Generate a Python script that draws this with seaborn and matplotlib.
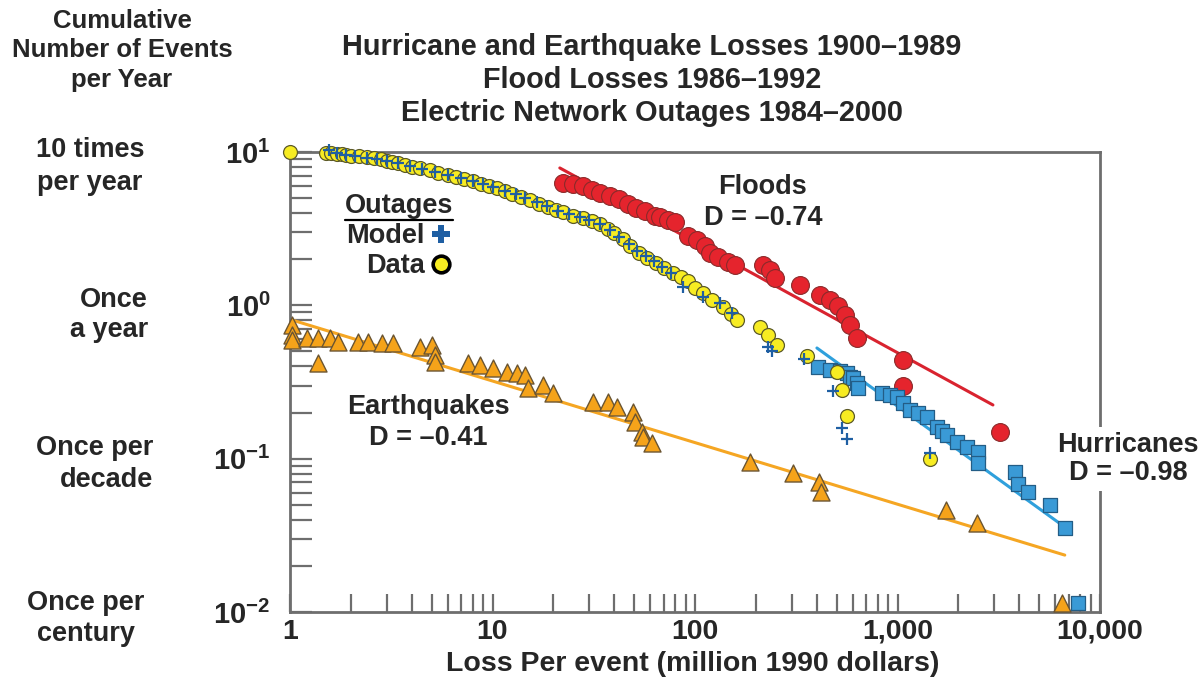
import numpy as np
import pandas as pd
import seaborn as sns
import matplotlib
import matplotlib.pyplot as plt
from matplotlib import font_manager
from matplotlib.lines import Line2D
from matplotlib.transforms import IdentityTransform

# ---------------- data ----------------
outage_data_x = [1.0, 1.5, 1.6, 1.7, 1.8, 1.9, 2.0, 2.2, 2.4, 2.6, 2.8, 3.0, 3.2, 3.4, 3.7,
                 4.0, 4.4, 4.9, 5.4, 6.0, 6.6, 7.2, 8.0, 8.8, 9.6, 10.5, 11.5, 12.5, 13.8,
                 15.3, 17.0, 18.8, 20.5, 22.3, 25, 28, 31, 34, 37, 40, 44, 48, 53, 58, 64,
                 70, 78, 85, 92, 100, 110, 122, 137, 150, 161, 209, 229, 254, 357, 503,
                 532, 563, 1445]
outage_data_y = [10.0, 9.9, 9.8, 9.75, 9.65, 9.55, 9.45, 9.35, 9.25, 9.1, 8.95, 8.8, 8.6, 8.45,
                 8.25, 8.0, 7.85, 7.6, 7.35, 7.1, 6.85, 6.7, 6.45, 6.2, 6.0, 5.8, 5.55, 5.3,
                 5.1, 4.86, 4.6, 4.4, 4.2, 4.05, 3.85, 3.7, 3.55, 3.4, 3.15, 2.95, 2.7, 2.45,
                 2.2, 2.05, 1.9, 1.75, 1.62, 1.52, 1.45, 1.3, 1.2, 1.08, 0.97, 0.88, 0.80,
                 0.72, 0.64, 0.55, 0.47, 0.37, 0.28, 0.19, 0.10]

outage_model_x = [1.55, 1.7, 1.9, 2.1, 2.4, 2.7, 3.0, 3.4, 3.9, 4.5, 5.2, 6.0, 7.0, 8.0, 9.0,
                  10.0, 11.5, 13.0, 14.5, 16.5, 18.5, 21, 24, 27, 30, 34, 38, 42, 47, 52,
                  57, 63, 69, 76, 87, 110, 133, 152, 229, 240, 344, 480, 532, 563, 1445]
outage_model_y = [10.3, 9.8, 9.6, 9.4, 9.2, 9.0, 8.75, 8.5, 8.15, 7.8, 7.45, 7.1, 6.75, 6.45,
                  6.15, 5.9, 5.6, 5.3, 5.0, 4.7, 4.45, 4.15, 3.95, 3.75, 3.6, 3.4, 3.1, 2.8,
                  2.5, 2.25, 2.1, 1.95, 1.78, 1.62, 1.32, 1.13, 1.03, 0.89, 0.535, 0.50,
                  0.45, 0.276, 0.158, 0.134, 0.109]

flood_x = [22.3, 25.0, 28.0, 31.0, 34.0, 38.0, 42.1, 46.7, 51.1, 56.6, 63.4, 67.2, 73.5,
           79.6, 92.3, 102, 112, 119, 130, 146, 158, 217, 235, 248, 330, 414, 464, 508,
           551, 583, 631, 1065, 1065, 3210]
flood_y = [6.28, 6.18, 6.0, 5.65, 5.40, 5.16, 4.94, 4.58, 4.31, 4.12, 3.82, 3.77, 3.60,
           3.49, 2.83, 2.67, 2.44, 2.20, 2.07, 1.92, 1.83, 1.83, 1.70, 1.51, 1.36, 1.17,
           1.08, 0.99, 0.865, 0.745, 0.61, 0.44, 0.30, 0.149]

hurricane_x = [405, 464, 520, 563, 583, 603, 631, 638, 838, 918, 995, 1065, 1153, 1262,
               1399, 1567, 1660, 1755, 1967, 2204, 2500, 2500, 3802, 3936, 4406, 5662,
               6714, 7786]
hurricane_y = [0.396, 0.379, 0.373, 0.362, 0.341, 0.336, 0.311, 0.289, 0.268, 0.260, 0.252,
               0.231, 0.208, 0.199, 0.187, 0.161, 0.151, 0.143, 0.129, 0.119, 0.110,
               0.0937, 0.0818, 0.0684, 0.0607, 0.0499, 0.0353, 0.0115]

quake_x = [1.02, 1.02, 1.02, 1.21, 1.37, 1.58, 1.73, 1.37, 2.17, 2.43, 2.85, 3.23, 4.38,
           5.03, 5.20, 5.20, 7.57, 8.67, 10.05, 11.8, 13.2, 14.5, 15.0, 17.8, 19.9, 31.3,
           37.2, 41.2, 49.4, 50.5, 54.7, 55.4, 61.3, 187, 305, 410, 419, 1737, 2470, 6490]
quake_y = [0.745, 0.640, 0.594, 0.612, 0.612, 0.612, 0.577, 0.421, 0.577, 0.577, 0.568,
           0.568, 0.535, 0.551, 0.474, 0.427, 0.421, 0.408, 0.390, 0.367, 0.362, 0.352,
           0.289, 0.302, 0.268, 0.234, 0.234, 0.217, 0.201, 0.173, 0.149, 0.138, 0.126,
           0.095, 0.0805, 0.0704, 0.0607, 0.0462, 0.0380, 0.0115]

# power-law fit lines (end points)
flood_fit_x = [21.5, 2960]
flood_fit_y = [7.87, 0.224]
hurricane_fit_x = [400, 6700]
hurricane_fit_y = [0.527, 0.0358]
quake_fit_x = [1.03, 6700]
quake_fit_y = [0.80, 0.0235]

x_ticks = [1, 10, 100, 1000, 10000]
x_tick_labels = ["1", "10", "100", "1,000", "10,000"]
y_ticks = [0.01, 0.1, 1, 10]
y_tick_labels = [r"$\mathbf{10^{-2}}$", r"$\mathbf{10^{-1}}$", r"$\mathbf{10^{0}}$", r"$\mathbf{10^{1}}$"]

# ---------------- style ----------------
sns.set_style("white")
plt.rcParams["font.family"] = ["Liberation Sans", "DejaVu Sans"]
plt.rcParams["mathtext.fontset"] = "custom"
plt.rcParams["mathtext.rm"] = "Liberation Sans"
plt.rcParams["mathtext.bf"] = "Liberation Sans:bold"
plt.rcParams["mathtext.it"] = "Liberation Sans:italic"

names = {f.name for f in font_manager.fontManager.ttflist}
title_family = ["Liberation Sans Narrow", "Liberation Sans"] if "Liberation Sans Narrow" in names else ["Liberation Sans"]

W, H = 1203, 680
fig = plt.figure(figsize=(W / 100, H / 100), dpi=100)
ax = fig.add_axes([290 / W, 1 - 612 / H, 810 / W, 460 / H])

SPINE = "#6e6e6e"
C_RED, C_RED_E = "#e5242d", "#8a2a2a"
C_BLUE, C_BLUE_E = "#3a9ad6", "#235d86"
C_ORANGE, C_ORANGE_E = "#f5a31a", "#6b5532"
C_YEL, C_YEL_E = "#f7ec22", "#5c5a28"
C_PLUS = "#1f5fa3"

# fit lines
sns.lineplot(x=flood_fit_x, y=flood_fit_y, ax=ax, color="#d9232f", lw=2.2, sort=False, estimator=None, zorder=2)
sns.lineplot(x=hurricane_fit_x, y=hurricane_fit_y, ax=ax, color="#2fa0dc", lw=2.2, sort=False, estimator=None, zorder=2)
sns.lineplot(x=quake_fit_x, y=quake_fit_y, ax=ax, color="#f5a623", lw=2.2, sort=False, estimator=None, zorder=2)

# markers
sns.scatterplot(x=quake_x, y=quake_y, ax=ax, marker="^", s=150, color=C_ORANGE,
                edgecolor=C_ORANGE_E, linewidth=1.0, zorder=3, clip_on=False)
sns.scatterplot(x=flood_x, y=flood_y, ax=ax, marker="o", s=165, color=C_RED,
                edgecolor=C_RED_E, linewidth=0.8, zorder=3, clip_on=False)
sns.scatterplot(x=hurricane_x, y=hurricane_y, ax=ax, marker="s", s=115, color=C_BLUE,
                edgecolor=C_BLUE_E, linewidth=0.9, zorder=3, clip_on=False)
sns.scatterplot(x=outage_data_x, y=outage_data_y, ax=ax, marker="o", s=100, color=C_YEL,
                edgecolor=C_YEL_E, linewidth=0.9, zorder=4, clip_on=False)
sns.scatterplot(x=outage_model_x, y=outage_model_y, ax=ax, marker="+", s=85, color=C_PLUS,
                linewidth=1.6, zorder=5, clip_on=False)

ax.set_xscale("log")
ax.set_yscale("log")
ax.set_xlim(1, 10000)
ax.set_ylim(0.01, 10)

ax.set_xticks(x_ticks)
ax.set_xticklabels(x_tick_labels)
ax.set_yticks(y_ticks)
ax.set_yticklabels(y_tick_labels)
ax.xaxis.set_minor_locator(matplotlib.ticker.LogLocator(base=10, subs=np.arange(2, 10)))
ax.yaxis.set_minor_locator(matplotlib.ticker.LogLocator(base=10, subs=np.arange(2, 10)))
ax.xaxis.set_minor_formatter(matplotlib.ticker.NullFormatter())
ax.yaxis.set_minor_formatter(matplotlib.ticker.NullFormatter())

ax.tick_params(axis="x", which="both", direction="in", length=13, width=1.6, color=SPINE,
               bottom=True, top=False, labelsize=20.5, pad=5)
ax.tick_params(axis="y", which="both", direction="in", length=16, width=1.6, color=SPINE,
               left=True, right=False, labelsize=21, pad=14)
for lab in ax.get_xticklabels():
    lab.set_fontweight("bold")
for sp in ax.spines.values():
    sp.set_color(SPINE)
    sp.set_linewidth(2.0)
    sp.set_visible(True)

ax.set_xlabel("Loss Per event (million 1990 dollars)", fontsize=20.5, fontweight="bold")
ax.xaxis.set_label_coords((693 - 290) / 810, -(651 - 612) / 460)
ax.set_ylabel("")


def ft(px, py, s, **kw):
    kw.setdefault("fontweight", "bold")
    kw.setdefault("va", "center")
    return fig.text(px / W, 1 - py / H, s, **kw)


# title
ft(652, 47, "Hurricane and Earthquake Losses 1900–1989", fontsize=20.8, ha="center", family=title_family)
ft(652, 80, "Flood Losses 1986–1992", fontsize=20.8, ha="center", family=title_family)
ft(652, 113, "Electric Network Outages 1984–2000", fontsize=20.8, ha="center", family=title_family)

# y-axis heading
ft(122, 21, "Cumulative", fontsize=18.5, ha="center")
ft(122, 50, "Number of Events", fontsize=18.5, ha="center")
ft(122, 80, "per Year", fontsize=18.5, ha="center")

# frequency descriptions
ft(90, 150, "10 times", fontsize=19.5, ha="center")
ft(90, 183, "per year", fontsize=19.5, ha="center")
ft(148, 300, "Once", fontsize=19.5, ha="right")
ft(148, 330, "a year", fontsize=19.5, ha="right")
ft(153, 448, "Once per", fontsize=19.5, ha="right")
ft(153, 480, "decade", fontsize=19.5, ha="right")
ft(86, 603, "Once per", fontsize=19.5, ha="center")
ft(86, 634, "century", fontsize=19.5, ha="center")

# annotations
ft(763, 187, "Floods", fontsize=19.5, ha="center")
ft(763, 218, "D = –0.74", fontsize=19.5, ha="center")
ft(428, 407, "Earthquakes", fontsize=19.5, ha="center")
ft(428, 438, "D = –0.41", fontsize=19.5, ha="center")
ft(1128, 459, "Hurricanes\nD = –0.98", fontsize=19.5, ha="center", linespacing=1.05,
   bbox=dict(facecolor="white", edgecolor="none", pad=4), zorder=10)

# outage legend
h_model = Line2D([], [], linestyle="none", marker="P", markersize=13, color=C_PLUS,
                 markeredgewidth=0)
h_data = Line2D([], [], linestyle="none", marker="o", markersize=12, markerfacecolor=C_YEL,
                markeredgecolor="black", markeredgewidth=2.6)
leg = ax.legend([h_model, h_data], ["Model", "Data"], title="Outages",
                markerfirst=False, frameon=False, loc="upper left",
                bbox_to_anchor=(0.051, 0.94), prop=dict(size=19.5, weight="bold"),
                title_fontproperties=dict(size=19.5, weight="bold"),
                handletextpad=0.2, labelspacing=0.15, borderpad=0.0, handlelength=0.8)

fig.canvas.draw()
bb = leg.get_title().get_window_extent()
fig.add_artist(Line2D([bb.x0, bb.x1], [bb.y0 - 1, bb.y0 - 1], transform=IdentityTransform(),
                      color="black", lw=1.6))
fig.savefig("out.png", dpi=100)
